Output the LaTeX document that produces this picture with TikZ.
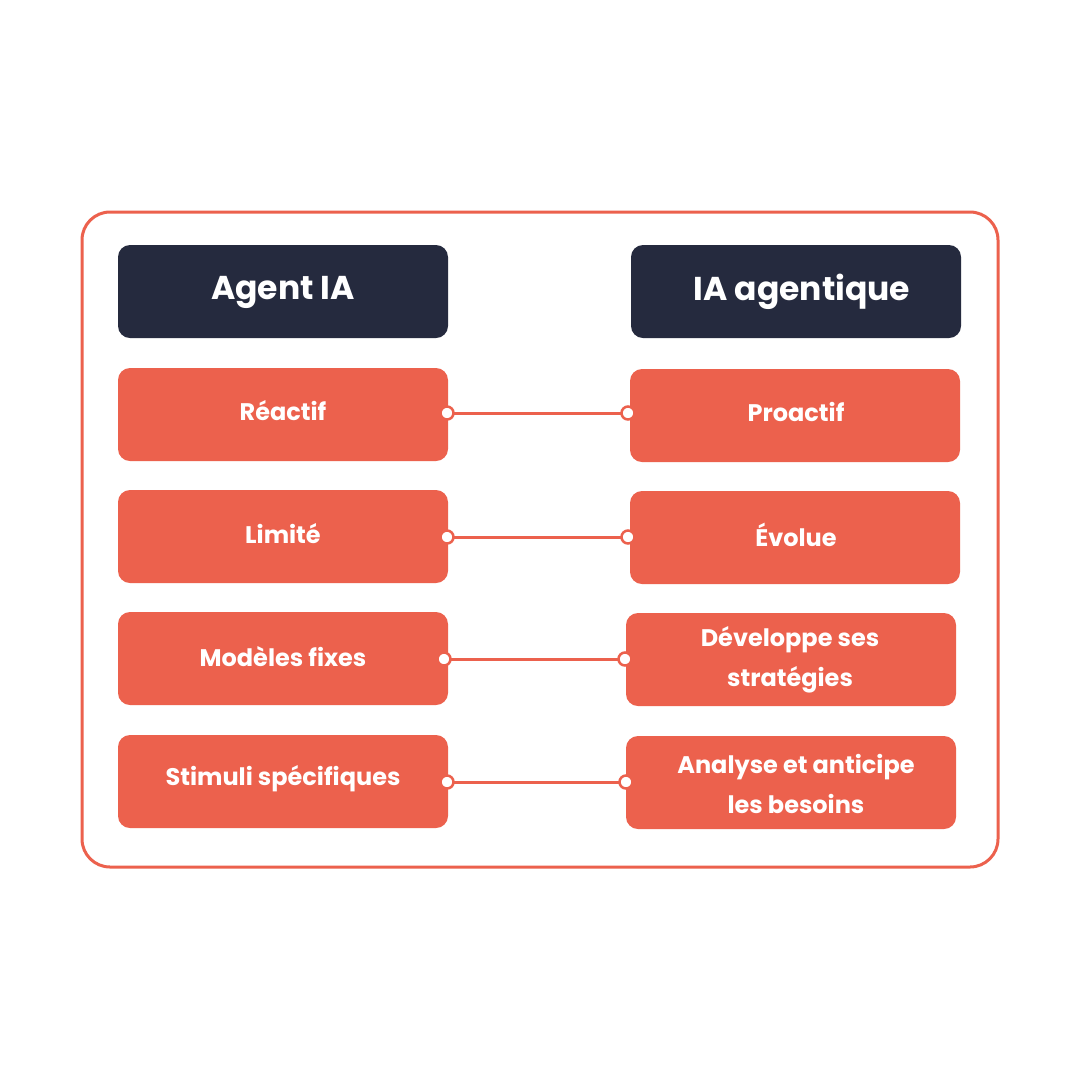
\documentclass[tikz,border=0pt]{standalone}
\usepackage{fontspec}
\setmainfont{Poppins}[UprightFont=* Bold]
\definecolor{ora}{HTML}{EC614D}
\definecolor{dark}{HTML}{252A3E}
\begin{document}
\begin{tikzpicture}[x=1pt,y=-1pt,
 hdr/.style={fill=dark,rounded corners=12pt},
 obox/.style={fill=ora,rounded corners=12pt},
 lbl/.style={text=white,align=center,font=\fontsize{24}{40}\selectfont},
 dot/.style={circle,draw=ora,fill=white,line width=2.5pt,inner sep=0pt,minimum size=13pt},
 conn/.style={draw=ora,line width=3pt}]
\useasboundingbox (0,0) rectangle (1080,1080);
\fill[white] (0,0) rectangle (1080,1080);
\draw[ora,line width=3pt,rounded corners=28pt] (82,212) rectangle (998,867);
\fill[hdr] (118,245) rectangle (448,338);
\fill[hdr] (631,245) rectangle (961,338);
\node[text=white,font=\fontsize{33}{40}\selectfont] (h1) at (283,292) {Agent IA};
\node[text=white,font=\fontsize{33}{40}\selectfont] (h2) at (802,292) {IA agentique};
\foreach \n/\y/\xr in {1/368/630,2/490/630,3/612/626,4/735/626}{
 \fill[obox] (118,\y) rectangle (448,\y+93);
 \fill[obox] (\xr,\y+1) rectangle (\xr+330,\y+94);
}
\node[lbl] (l1) at (283,411) {Réactif};
\node[lbl] (l2) at (283,534) {Limité};
\node[lbl] (l3) at (283,657) {Modèles fixes};
\node[lbl] (l4) at (283,779) {Stimuli spécifiques};
\node[lbl] (r1) at (796,412) {Proactif};
\node[lbl] (r2) at (796,535) {Évolue};
\node[lbl] (r3) at (790,660) {Développe ses\\stratégies};
\node[lbl] (r4) at (796,784) {Analyse et anticipe\\les besoins};
\foreach \n/\y/\xa/\xb in {1/413/447/628,2/537/447/628,3/659/444/625,4/782/447/626}{
 \coordinate (a\n) at (\xa,\y);
 \coordinate (b\n) at (\xb,\y);
 \draw[conn] (a\n) -- (b\n);
 \node[dot] at (a\n) {};
 \node[dot] at (b\n) {};
}
\end{tikzpicture}
\end{document}
